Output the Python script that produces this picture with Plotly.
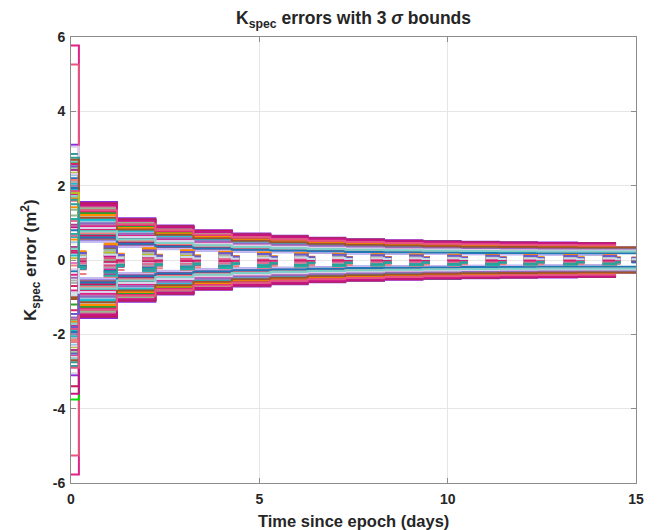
import plotly.graph_objects as go

# ---------------- data ----------------
# times (days) at which the filter steps its estimate / covariance
STEP_T = [0.0, 0.21, 1.22, 2.24, 3.25, 4.27, 5.29, 6.28, 7.28, 8.31, 9.33,
          10.34, 11.36, 12.37, 13.43, 14.47]
# largest 3-sigma bound in each segment after the first update (m^2)
SEG_BOUND = [1.56, 1.12, 0.93, 0.80, 0.71, 0.65, 0.60, 0.56, 0.53, 0.51,
             0.49, 0.48, 0.47, 0.46]
# per-run size of the bound relative to the largest one
RUN_SCALE = [1.00, 0.31, 0.97, 0.45, 0.62, 0.88, 0.36, 0.74, 0.52, 0.93,
             0.40, 0.68, 0.83, 0.34, 0.57, 0.79, 0.48, 0.95, 0.65, 0.38,
             0.71, 0.86, 0.43, 0.60, 0.91, 0.33, 0.54, 0.76, 0.50, 0.98,
             0.42, 0.66, 0.81, 0.37, 0.58, 0.89, 0.46, 0.70, 0.84, 0.32,
             0.63, 0.77, 0.55, 0.94, 0.39, 0.73, 0.49, 0.86]
# per-run initial 3-sigma bound on [0, 0.21] (m^2)
INIT_BOUND = [3.10, 1.72, 2.85, 1.64, 5.77, 1.95, 2.62, 1.80, 5.26, 2.48,
              1.68, 2.05, 1.76, 2.35, 1.62, 1.88, 3.05, 1.70, 2.20, 1.84,
              2.65, 1.66, 1.92, 2.10, 1.74, 2.52, 1.60, 1.98, 2.75, 1.78,
              1.86, 2.28, 1.69, 2.42, 1.82, 1.63, 2.15, 1.90, 2.58, 1.73,
              2.00, 1.67, 2.32, 1.79, 1.94, 2.70, 1.71, 1.85]
# per-run initial error on [0, 0.21] (m^2)
INIT_ERR = [0.35, -0.82, 1.20, -0.15, 0.62, -1.35, 0.05, -0.48, 1.42, -2.60,
            0.88, -0.30, -1.05, 0.18, -3.75, 0.70, -0.62, 1.05, -1.80, 0.25,
            -0.95, 1.62, -0.08, -3.40, 0.48, -1.20, 0.95, -0.40, 1.35, -2.20,
            0.12, -0.70, 1.80, -1.55, 0.55, -0.25, -3.60, 0.80, -1.00, 0.30,
            -2.90, 1.10, -0.55, 0.65, -1.45, 0.20, -0.88, 1.50]
# per-run error before / after each update, as a fraction of the segment bound
ERR_BEFORE = [0.12, -0.22, 0.25, -0.05, 0.18, -0.28, 0.02, -0.15, 0.28, -0.10,
              0.08, -0.25, 0.20, -0.02, 0.14, -0.18, 0.22, -0.08, 0.05, -0.26,
              0.16, -0.12, 0.26, -0.20, 0.10, -0.04, 0.24, -0.16, 0.00, -0.29,
              0.19, -0.09, 0.13, -0.23, 0.27, -0.06, 0.07, -0.19, 0.21, -0.13,
              0.03, -0.27, 0.17, -0.11, 0.23, -0.03, 0.09, -0.21]
ERR_AFTER = [0.06, -0.12, 0.14, -0.02, 0.10, -0.16, 0.01, -0.08, 0.15, -0.05,
             0.04, -0.14, 0.11, -0.01, 0.07, -0.10, 0.12, -0.04, 0.03, -0.15,
             0.09, -0.06, 0.13, -0.11, 0.05, -0.02, 0.12, -0.09, 0.00, -0.24,
             0.10, -0.05, 0.07, -0.13, 0.14, -0.03, 0.04, -0.10, 0.11, -0.07,
             0.02, -0.15, 0.09, -0.06, 0.12, -0.02, 0.05, -0.12]
# runs whose tracking continues to day 15
EXTENDED_RUNS = [3, 4, 7, 11, 14, 16, 18, 20, 22, 23, 26, 28, 31, 34, 36,
                 37, 40, 42, 44, 45, 46]
T_END = 15.0
X_TICKS = [0, 5, 10, 15]
X_TICK_TEXT = ["0", "5", "10", "15"]
Y_TICKS = [-6, -4, -2, 0, 2, 4, 6]
Y_TICK_TEXT = ["-6", "-4", "-2", "0", "2", "4", "6"]

# ---------------- style ----------------
PALETTE = ["#d11f6e", "#c8dde8", "#2aa198", "#e377c2", "#c2185b", "#9bc7e0",
           "#2ca02c", "#b03a8c", "#e0218a", "#8fbc8f", "#f08080", "#17becf",
           "#d6246e", "#bcbd22", "#9467bd", "#ff8c00", "#dcd0e8", "#c71585",
           "#1f77b4", "#a0522d", "#7fd1c7", "#e75480", "#20b2aa", "#b0b0b0",
           "#db7093", "#6a5acd"]
COLOR_OVERRIDE = {0: "#8a2be2", 29: "#c2185b", 4: "#e0218a", 8: "#e75480",
                  39: "#c9b8f0", 1: "#b8c8f5"}
ERR_COLOR_OVERRIDE = {14: "#00e000"}
LW = 2.0
WIN_BEFORE = 0.35
WIN_AFTER = 0.2

fig = go.Figure()
n_runs = len(RUN_SCALE)


def color_of(r):
    return COLOR_OVERRIDE.get(r, PALETTE[r % len(PALETTE)])


# 3-sigma bound traces
for r in range(n_runs):
    s = RUN_SCALE[r]
    xs = list(STEP_T)
    ys = [INIT_BOUND[r]] + [s * b for b in SEG_BOUND]
    ys = ys + [ys[-1]]
    if r in EXTENDED_RUNS:
        xs = xs + [T_END]
        ys = ys + [ys[-1]]
    x_all = xs + [None] + xs
    y_all = ys + [None] + [-v for v in ys]
    fig.add_trace(go.Scatter(x=x_all, y=y_all, mode="lines",
                             line=dict(color=color_of(r), width=LW, shape="hv"),
                             connectgaps=False, hoverinfo="skip"))

# error traces (only around each update)
for r in range(n_runs):
    x_all, y_all = [], []
    for k in range(1, len(STEP_T)):
        tk = STEP_T[k]
        start = max(0.0, tk - WIN_BEFORE)
        end = tk + WIN_AFTER if k < len(STEP_T) - 1 else tk + 0.12
        if k == 1:
            before = INIT_ERR[r]
        else:
            before = ERR_BEFORE[r] * SEG_BOUND[k - 2]
        after = ERR_AFTER[r] * SEG_BOUND[min(k - 1, len(SEG_BOUND) - 1)]
        x_all += [start, tk, end, None]
        y_all += [before, after, after, None]
    if r in EXTENDED_RUNS:
        v = ERR_AFTER[r] * SEG_BOUND[-1]
        x_all += [14.88, T_END, None]
        y_all += [v, v, None]
    col = ERR_COLOR_OVERRIDE.get(r, PALETTE[(r + 7) % len(PALETTE)])
    fig.add_trace(go.Scatter(x=x_all, y=y_all, mode="lines",
                             line=dict(color=col, width=LW, shape="hv"),
                             connectgaps=False, hoverinfo="skip"))

FONT = "Liberation Sans, Arial, Helvetica, sans-serif"
AX_COLOR = "#8c8c8c"
TXT = "#262626"

axis_common = dict(
    showline=True, linecolor=AX_COLOR, linewidth=1, mirror="ticks",
    ticks="inside", ticklen=5, tickcolor=AX_COLOR, tickwidth=1,
    showgrid=True, gridcolor="#e6e6e6", gridwidth=1, zeroline=False,
    automargin=False,
    tickfont=dict(family=FONT, size=14, color=TXT, weight="bold"),
)

# the page body adds an 8 px offset; figure is sized so the plot area
# lands at x 71..636, y 37..483 of the window
FIG_W, FIG_H = 653, 522
M_L, M_R, M_T, M_B = 63, 25, 29, 47
PLOT_H = FIG_H - M_T - M_B
PLOT_W = FIG_W - M_L - M_R
OFF = 8

fig.update_layout(
    width=FIG_W, height=FIG_H,
    margin=dict(l=M_L, r=M_R, t=M_T, b=M_B),
    plot_bgcolor="white", paper_bgcolor="white",
    showlegend=False,
    font=dict(family=FONT, color=TXT),
    title=dict(text="<b>K<sub>spec</sub> errors with 3 <i>σ</i> bounds</b>",
               x=0.5, xref="paper", xanchor="center",
               y=1 - (18 - OFF) / FIG_H, yref="container", yanchor="middle",
               font=dict(family=FONT, size=17.5, color=TXT)),
    xaxis=dict(range=[0, 15], tickvals=X_TICKS, ticktext=X_TICK_TEXT,
               ticklabelstandoff=3, **axis_common),
    yaxis=dict(range=[-6, 6], tickvals=Y_TICKS, ticktext=Y_TICK_TEXT,
               ticklabelstandoff=2, **axis_common),
    annotations=[
        dict(text="<b>Time since epoch (days)</b>", xref="paper", yref="paper",
             x=0.5, y=-(521 - 483) / PLOT_H, xanchor="center", yanchor="middle",
             showarrow=False, font=dict(family=FONT, size=16.5, color=TXT)),
        dict(text="<b>K<sub>spec</sub> error (m<sup>2</sup>)</b>", xref="paper", yref="paper",
             x=-(71 - 30) / PLOT_W, y=0.5, xanchor="center", yanchor="middle",
             textangle=-90, showarrow=False,
             font=dict(family=FONT, size=17, color=TXT)),
    ],
)

fig.write_html("out.html")
